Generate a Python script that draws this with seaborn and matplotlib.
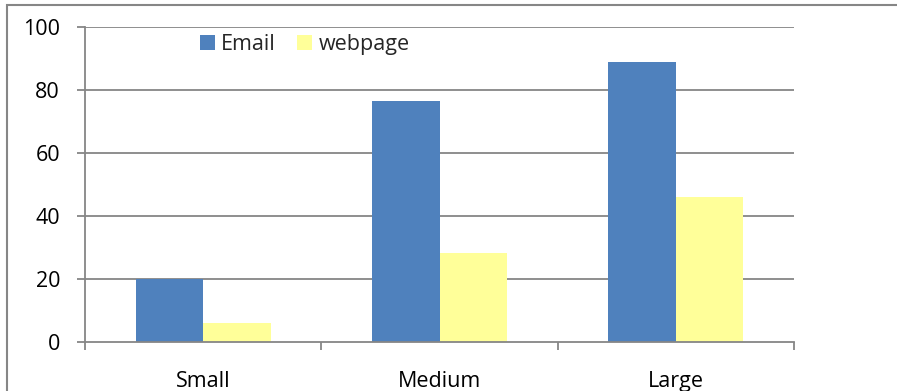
import matplotlib
matplotlib.use("Agg")
import matplotlib.pyplot as plt
from matplotlib.patches import Rectangle
from matplotlib.ticker import FixedLocator
import seaborn as sns
import pandas as pd

categories = ["Small", "Medium", "Large"]
email = [20, 76.5, 89]
webpage = [6, 28.2, 46]
series_names = ["Email", "webpage"]
yticks = [0, 20, 40, 60, 80, 100]

df = pd.DataFrame({
    "size": categories * 2,
    "value": email + webpage,
    "series": [series_names[0]] * 3 + [series_names[1]] * 3,
})

sns.set_style("white")
plt.rcParams["font.family"] = ["Open Sans", "DejaVu Sans"]

fig = plt.figure(figsize=(8.97, 3.91), dpi=100)
ax = fig.add_axes([85/897, 1 - 342/391, (794-85)/897, (342-27)/391])

grid_c = "#868686"
fs = 15.5
for y in yticks[1:]:
    ax.axhline(y, color=grid_c, lw=1.3, zorder=0)

sns.barplot(data=df, x="size", y="value", hue="series", order=categories,
            hue_order=series_names, palette=["#4F81BD", "#FFFF99"],
            width=0.57, gap=0, saturation=1, ax=ax, zorder=2, legend=True,
            linewidth=0)

ax.set_xlim(-0.5, 2.5)
ax.set_ylim(0, 100)
ax.set_yticks(yticks)
ax.set_xlabel("")
ax.set_ylabel("")
for s in ["top", "right"]:
    ax.spines[s].set_visible(False)
for s in ["left", "bottom"]:
    ax.spines[s].set_color(grid_c)
    ax.spines[s].set_linewidth(1.3)
    ax.spines[s].set_zorder(3)

ax.tick_params(axis="y", which="major", length=6, width=1.3, color=grid_c,
               direction="out", pad=12, labelsize=fs, left=True, labelcolor="black")
ax.tick_params(axis="x", which="major", length=0, pad=21, labelsize=fs, labelcolor="black")
ax.xaxis.set_minor_locator(FixedLocator([-0.5, 0.5, 1.5, 2.5]))
ax.tick_params(axis="x", which="minor", length=6, width=1.3, color=grid_c,
               direction="out", bottom=True)

leg = ax.legend(loc="center", bbox_to_anchor=(0.31, 0.945), ncol=2, frameon=False,
                fontsize=fs, handlelength=0.7, handleheight=0.7,
                handletextpad=0.3, columnspacing=1.0, borderaxespad=0)

fig.patches.append(Rectangle((7/897, -0.5), 2, 1.5 - 5/391,
                             transform=fig.transFigure, fill=False,
                             edgecolor=grid_c, lw=1.5))

fig.savefig("out.png", dpi=100)
